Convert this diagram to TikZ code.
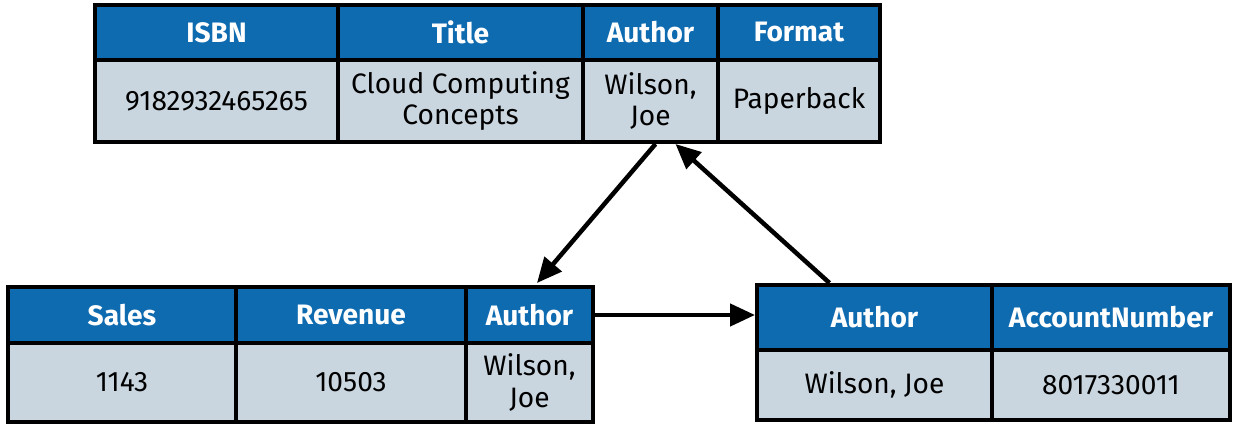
\documentclass[tikz,border=0pt]{standalone}
\usepackage{fontspec}
\setmainfont{Fira Sans}
\usepackage{xcolor}
\usetikzlibrary{arrows.meta,calc}
\definecolor{hdrblue}{HTML}{0F6BB0}
\definecolor{cellgray}{HTML}{C9D5DF}

\begin{document}
\begin{tikzpicture}[
    hdr/.style={rectangle, draw=black, line width=0.08cm, fill=hdrblue, text=white, inner sep=0pt, align=center, font=\bfseries\fontsize{16}{18}\selectfont},
    cell/.style={rectangle, draw=black, line width=0.08cm, fill=cellgray, inner sep=0pt, align=center, font=\fontsize{16}{18}\selectfont},
    arrow/.style={-{Triangle[length=0.5cm,width=0.44cm]}, line width=0.09cm}
]
    \useasboundingbox (0,0) rectangle (24.8,8.52);

    % Book table (top)
    \node[hdr, minimum width=4.86cm, minimum height=1.1cm] (isbn) at (4.33,7.87) {ISBN};
    \node[hdr, minimum width=4.9cm, minimum height=1.1cm] (title) at (9.21,7.87) {Title};
    \node[hdr, minimum width=2.7cm, minimum height=1.1cm] (bookAuthor) at (13.01,7.87) {Author};
    \node[hdr, minimum width=3.24cm, minimum height=1.1cm] (format) at (15.98,7.87) {Format};
    \node[cell, minimum width=4.86cm, minimum height=1.64cm] (isbnVal) at (4.33,6.5) {9182932465265};
    \node[cell, minimum width=4.9cm, minimum height=1.64cm] (titleVal) at (9.21,6.5) {Cloud Computing\\Concepts};
    \node[cell, minimum width=2.7cm, minimum height=1.64cm] (bookAuthorVal) at (13.01,6.5) {Wilson,\\Joe};
    \node[cell, minimum width=3.24cm, minimum height=1.64cm] (formatVal) at (15.98,6.5) {Paperback};

    % Sales table (bottom left)
    \node[hdr, minimum width=4.56cm, minimum height=1.12cm] (sales) at (2.44,2.22) {Sales};
    \node[hdr, minimum width=4.6cm, minimum height=1.12cm] (revenue) at (7.02,2.22) {Revenue};
    \node[hdr, minimum width=2.54cm, minimum height=1.12cm] (salesAuthor) at (10.59,2.22) {Author};
    \node[cell, minimum width=4.56cm, minimum height=1.58cm] (salesVal) at (2.44,0.87) {1143};
    \node[cell, minimum width=4.6cm, minimum height=1.58cm] (revenueVal) at (7.02,0.87) {10503};
    \node[cell, minimum width=2.54cm, minimum height=1.58cm] (salesAuthorVal) at (10.59,0.87) {Wilson,\\Joe};

    % Account table (bottom right)
    \node[hdr, minimum width=4.7cm, minimum height=1.3cm] (acctAuthor) at (17.49,2.17) {Author};
    \node[hdr, minimum width=4.76cm, minimum height=1.3cm] (acctNumber) at (22.22,2.17) {AccountNumber};
    \node[cell, minimum width=4.7cm, minimum height=1.4cm] (acctAuthorVal) at (17.49,0.82) {Wilson, Joe};
    \node[cell, minimum width=4.76cm, minimum height=1.4cm] (acctNumberVal) at (22.22,0.82) {8017330011};

    % Links
    \draw[arrow] ([xshift=0.1cm]bookAuthorVal.south) -- ([xshift=0.15cm,yshift=0.04cm]salesAuthor.north);
    \draw[arrow] ([xshift=-0.9cm]acctAuthor.north) -- ([xshift=0.5cm]bookAuthorVal.south);
    \draw[arrow] (salesAuthor.east) -- (salesAuthor.east -| acctAuthor.west);
\end{tikzpicture}
\end{document}
